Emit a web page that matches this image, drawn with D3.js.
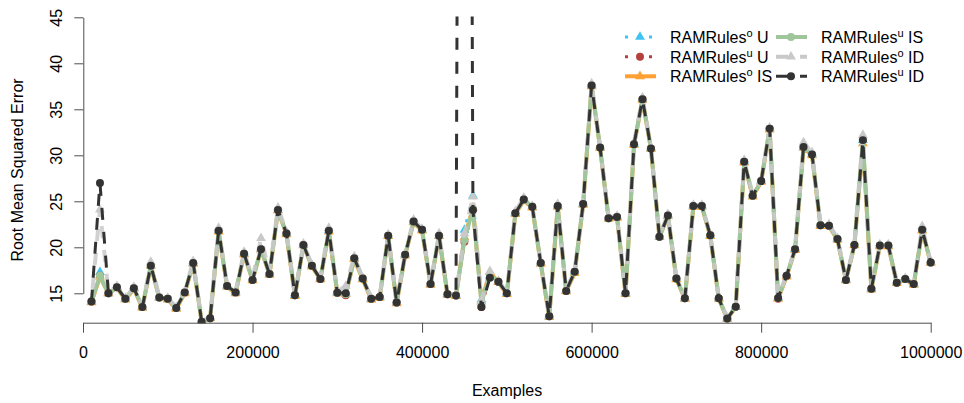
<!DOCTYPE html>
<html>
<head>
<meta charset="utf-8">
<script src="https://cdn.jsdelivr.net/npm/d3@7/dist/d3.min.js"></script>
<style>
  body { margin: 0; background: #fff; }
  text { font-family: "Liberation Sans", Arial, sans-serif; fill: #000; }
</style>
</head>
<body>
<div id="chart"></div>
<script>
// x positions: one reading every 10000 examples
const examples = d3.range(10000, 1000001, 10000);
const xTicks = [0, 200000, 400000, 600000, 800000, 1000000];
const yTicks = [15, 20, 25, 30, 35, 40, 45];

// RMSE, one array per method
const uOrd = [
  14.1, 17.3, 15.0, 15.65, 14.4, 15.55, 13.5, 18.0, 14.55, 14.4,
  13.4, 15.1, 18.3, 11.9, 12.3, 21.8, 15.8, 15.1, 19.3, 16.45,
  19.8, 17.1, 24.05, 21.5, 14.8, 20.25, 18.0, 16.55, 21.8, 15.07,
  15.0, 18.8, 16.6, 14.4, 14.6, 21.25, 14.0, 19.2, 22.8, 21.9,
  16.0, 21.25, 14.9, 14.75, 21.9, 25.6, 14.3, 16.9, 16.25, 15.0,
  23.7, 25.2, 24.4, 18.3, 12.5, 24.5, 15.25, 17.35, 24.7, 37.6,
  30.85, 23.15, 23.3, 15.0, 31.2, 36.1, 30.75, 21.15, 23.45, 16.6,
  14.45, 24.5, 24.5, 21.3, 14.45, 12.25, 13.55, 29.3, 25.6, 27.2,
  32.9, 14.5, 16.9, 19.8, 30.9, 30.1, 22.4, 22.35, 20.9, 16.45,
  20.25, 31.65, 15.5, 20.2, 20.2, 16.15, 16.55, 16.0, 21.9, 18.35
];
const uUnord = [
  14.1, 16.9, 15.0, 15.65, 14.4, 15.55, 13.5, 18.0, 14.55, 14.4,
  13.4, 15.1, 18.3, 11.9, 12.3, 21.8, 15.8, 15.1, 19.3, 16.45,
  19.8, 17.1, 24.05, 21.5, 14.8, 20.25, 18.0, 16.55, 21.8, 15.07,
  14.8, 18.8, 16.6, 14.4, 14.6, 21.25, 14.0, 19.2, 22.8, 21.9,
  16.0, 21.25, 14.9, 14.75, 20.6, 24.1, 13.5, 16.8, 16.25, 15.0,
  23.7, 25.2, 24.4, 18.3, 12.5, 24.5, 15.25, 17.35, 24.7, 37.6,
  30.85, 23.15, 23.3, 15.0, 31.2, 36.1, 30.75, 21.15, 23.45, 16.6,
  14.45, 24.5, 24.5, 21.3, 14.45, 12.25, 13.55, 29.3, 25.6, 27.2,
  32.9, 14.4, 16.9, 19.8, 30.9, 30.1, 22.4, 22.35, 20.9, 16.45,
  20.25, 31.65, 15.5, 20.2, 20.2, 16.15, 16.55, 16.0, 21.9, 18.35
];
const isOrd = [
  14.0, 16.8, 15.0, 15.6, 14.3, 15.5, 13.4, 18.0, 14.5, 14.3,
  13.3, 15.0, 18.2, 11.9, 12.3, 21.7, 15.7, 15.0, 19.2, 16.4,
  19.8, 17.0, 24.0, 21.4, 14.7, 20.2, 17.9, 16.5, 21.7, 15.0,
  14.9, 18.7, 16.5, 14.3, 14.5, 21.2, 13.9, 19.1, 22.7, 21.8,
  15.9, 21.2, 14.8, 14.7, 21.1, 24.3, 14.1, 17.3, 16.2, 14.9,
  23.6, 25.1, 24.3, 18.2, 12.4, 24.4, 15.2, 17.2, 24.6, 37.5,
  30.8, 23.1, 23.2, 14.9, 31.1, 36.0, 30.7, 21.1, 23.4, 16.5,
  14.4, 24.4, 24.4, 21.2, 14.4, 12.2, 13.5, 29.2, 25.5, 27.1,
  32.8, 14.4, 16.8, 19.7, 30.8, 30.0, 22.3, 22.3, 20.8, 16.4,
  20.2, 31.3, 15.4, 20.1, 20.1, 16.1, 16.5, 15.9, 21.8, 18.3
];
const isUnord = [
  14.1, 16.9, 15.0, 15.65, 14.4, 15.55, 13.5, 18.0, 14.55, 14.4,
  13.4, 15.1, 18.3, 11.9, 12.3, 21.8, 15.8, 15.1, 19.3, 16.45,
  19.8, 17.1, 24.05, 21.5, 14.8, 20.25, 18.0, 16.55, 21.8, 15.07,
  14.9, 18.8, 16.6, 14.4, 14.6, 21.25, 14.0, 19.2, 22.8, 21.9,
  16.0, 21.25, 14.9, 14.75, 20.8, 24.2, 14.0, 17.0, 16.25, 15.0,
  23.7, 25.2, 24.4, 18.3, 12.5, 24.5, 15.25, 17.35, 24.7, 37.6,
  30.85, 23.15, 23.3, 15.0, 31.2, 36.1, 30.75, 21.15, 23.45, 16.6,
  14.45, 24.5, 24.5, 21.3, 14.45, 12.25, 13.55, 29.3, 25.6, 27.2,
  32.9, 14.5, 16.9, 19.8, 30.9, 30.1, 22.4, 22.35, 20.9, 16.45,
  20.25, 31.65, 15.5, 20.2, 20.2, 16.15, 16.55, 16.0, 21.9, 18.35
];
const idOrd = [
  14.2, 24.1, 15.1, 15.8, 14.5, 15.7, 13.6, 18.4, 14.6, 14.5,
  13.5, 15.2, 18.5, 12.0, 12.4, 22.1, 15.9, 15.2, 19.5, 16.6,
  21.0, 17.3, 24.3, 21.7, 14.9, 20.4, 18.1, 16.7, 22.1, 15.2,
  15.8, 19.0, 16.7, 14.5, 14.7, 21.4, 14.1, 19.3, 23.0, 22.0,
  16.1, 21.5, 15.0, 14.85, 21.5, 25.5, 14.2, 17.4, 16.35, 15.1,
  23.9, 25.4, 24.5, 18.4, 12.6, 24.7, 15.35, 17.5, 24.8, 37.8,
  31.0, 23.3, 23.4, 15.1, 31.4, 36.3, 30.9, 21.3, 23.6, 16.7,
  14.55, 24.6, 24.6, 21.4, 14.55, 12.35, 13.65, 29.5, 25.7, 27.3,
  33.0, 14.6, 17.0, 19.9, 31.4, 30.3, 22.5, 22.5, 21.0, 16.55,
  20.35, 32.2, 15.6, 20.3, 20.3, 16.25, 16.65, 16.1, 22.3, 18.45
];
const idUnord = [
  14.1, 27.0, 15.0, 15.65, 14.4, 15.55, 13.5, 18.0, 14.55, 14.4,
  13.4, 15.1, 18.3, 11.9, 12.3, 21.8, 15.8, 15.1, 19.3, 16.45,
  19.8, 17.1, 24.05, 21.5, 14.8, 20.25, 18.0, 16.55, 21.8, 15.07,
  15.0, 18.8, 16.6, 14.4, 14.6, 21.25, 14.0, 19.2, 22.8, 21.9,
  16.0, 21.25, 14.9, 14.75, 260, 24.05, 13.5, 16.7, 16.25, 15.0,
  23.7, 25.2, 24.4, 18.3, 12.5, 24.5, 15.25, 17.35, 24.7, 37.6,
  30.85, 23.15, 23.3, 15.0, 31.2, 36.1, 30.75, 21.15, 23.45, 16.6,
  14.45, 24.5, 24.5, 21.3, 14.45, 12.25, 13.55, 29.3, 25.6, 27.2,
  32.9, 14.5, 16.9, 19.8, 30.9, 30.1, 22.4, 22.35, 20.9, 16.45,
  20.25, 31.65, 15.5, 20.2, 20.2, 16.15, 16.55, 16.0, 21.9, 18.35
];

// drawing order = legend order (column by column)
const series = [
  { sup: "o", name: "U",  values: uOrd,    color: "#3cc4f4", width: 3,   dash: "3,9",   shape: d3.symbolTriangle },
  { sup: "u", name: "U",  values: uUnord,  color: "#b5413f", width: 3,   dash: "3,9",   shape: d3.symbolCircle },
  { sup: "o", name: "IS", values: isOrd,   color: "#ffa033", width: 4,   dash: null,    shape: d3.symbolTriangle },
  { sup: "u", name: "IS", values: isUnord, color: "#9fc69a", width: 4,   dash: null,    shape: d3.symbolCircle },
  { sup: "o", name: "ID", values: idOrd,   color: "#c9c9c9", width: 4,   dash: "12,12", shape: d3.symbolTriangle, offset: 12, alpha: 0.85 },
  { sup: "u", name: "ID", values: idUnord, color: "#333333", width: 3,   dash: "12,12", shape: d3.symbolCircle }
];

const width = 964, height = 403;

const svg = d3.select("#chart").append("svg")
    .attr("width", width)
    .attr("height", height);

const x = d3.scaleLinear().domain([0, 1000000]).range([83, 930.7]);
const y = d3.scaleLinear().domain([15, 45]).range([293.3, 17.3]);
const axisY = 322.7;

// clip area of the plot region
svg.append("clipPath").attr("id", "plotclip")
  .append("rect")
    .attr("x", 70).attr("y", 16.5)
    .attr("width", 880).attr("height", axisY + 0.5 - 16.5);

const plot = svg.append("g").attr("clip-path", "url(#plotclip)");

const line = d3.line()
    .x((d, i) => x(examples[i]))
    .y(d => y(d));

series.forEach(s => {
    plot.append("path")
        .datum(s.values)
        .attr("d", line)
        .attr("fill", "none")
        .attr("stroke", s.color)
        .attr("stroke-opacity", s.alpha || 1)
        .attr("stroke-width", s.width)
        .attr("stroke-dasharray", s.dash)
        .attr("stroke-dashoffset", s.offset || 0)
        .attr("stroke-linejoin", "round");

    const sym = d3.symbol().type(s.shape).size(s.shape === d3.symbolCircle ? 50 : 42);
    plot.append("g").selectAll("path")
        .data(s.values)
        .enter()
        .append("path")
        .attr("d", sym)
        .attr("transform", (d, i) => `translate(${x(examples[i])},${y(d)})`)
        .attr("fill", s.color);
});

// x axis
const xAxis = d3.axisBottom(x)
    .tickValues(xTicks)
    .tickFormat(d3.format("d"))
    .tickSize(10)
    .tickSizeOuter(0)
    .tickPadding(14);
const gx = svg.append("g")
    .attr("transform", `translate(0,${axisY})`)
    .call(xAxis);
gx.select(".domain").attr("stroke", "#4d4d4d");
gx.selectAll(".tick line").attr("stroke", "#4d4d4d");
gx.selectAll(".tick text").style("font-size", "16px").attr("fill", "#000");

// y axis
const yAxis = d3.axisLeft(y)
    .tickValues(yTicks)
    .tickSize(9)
    .tickSizeOuter(0);
const gy = svg.append("g")
    .attr("transform", "translate(83.3,0)")
    .call(yAxis);
gy.select(".domain").attr("stroke", "#4d4d4d");
gy.selectAll(".tick line").attr("stroke", "#4d4d4d");
gy.selectAll(".tick text")
    .style("font-size", "16px")
    .attr("fill", "#000")
    .attr("x", null).attr("dy", null)
    .attr("text-anchor", "middle")
    .attr("transform", "translate(-21.8,0) rotate(-90)");

// axis titles
svg.append("text")
    .attr("x", 507).attr("y", 396)
    .attr("text-anchor", "middle")
    .style("font-size", "16px")
    .text("Examples");

svg.append("text")
    .attr("transform", "translate(23,170) rotate(-90)")
    .attr("text-anchor", "middle")
    .style("font-size", "16px")
    .text("Root Mean Squared Error");

// legend, two columns of three
const legend = svg.append("g");
const colX = [625, 776];
const rowY = [37, 56.7, 76.3];

series.forEach((s, i) => {
    const lx = colX[Math.floor(i / 3)];
    const ly = rowY[i % 3];
    const g = legend.append("g");
    g.append("line")
        .attr("x1", lx).attr("x2", lx + 31)
        .attr("y1", ly).attr("y2", ly)
        .attr("stroke", s.color)
        .attr("stroke-width", s.width)
        .attr("stroke-dasharray", s.dash);
    g.append("path")
        .attr("d", d3.symbol().type(s.shape).size(s.shape === d3.symbolCircle ? 50 : 42))
        .attr("transform", `translate(${lx + 15},${ly})`)
        .attr("fill", s.color);
    const t = g.append("text")
        .attr("x", lx + 45).attr("y", ly + 6)
        .style("font-size", "16px");
    t.append("tspan").text("RAMRules");
    t.append("tspan").attr("dy", -6).style("font-size", "11px").text(s.sup);
    t.append("tspan").attr("dy", 6).text(" " + s.name);
});
</script>
</body>
</html>
